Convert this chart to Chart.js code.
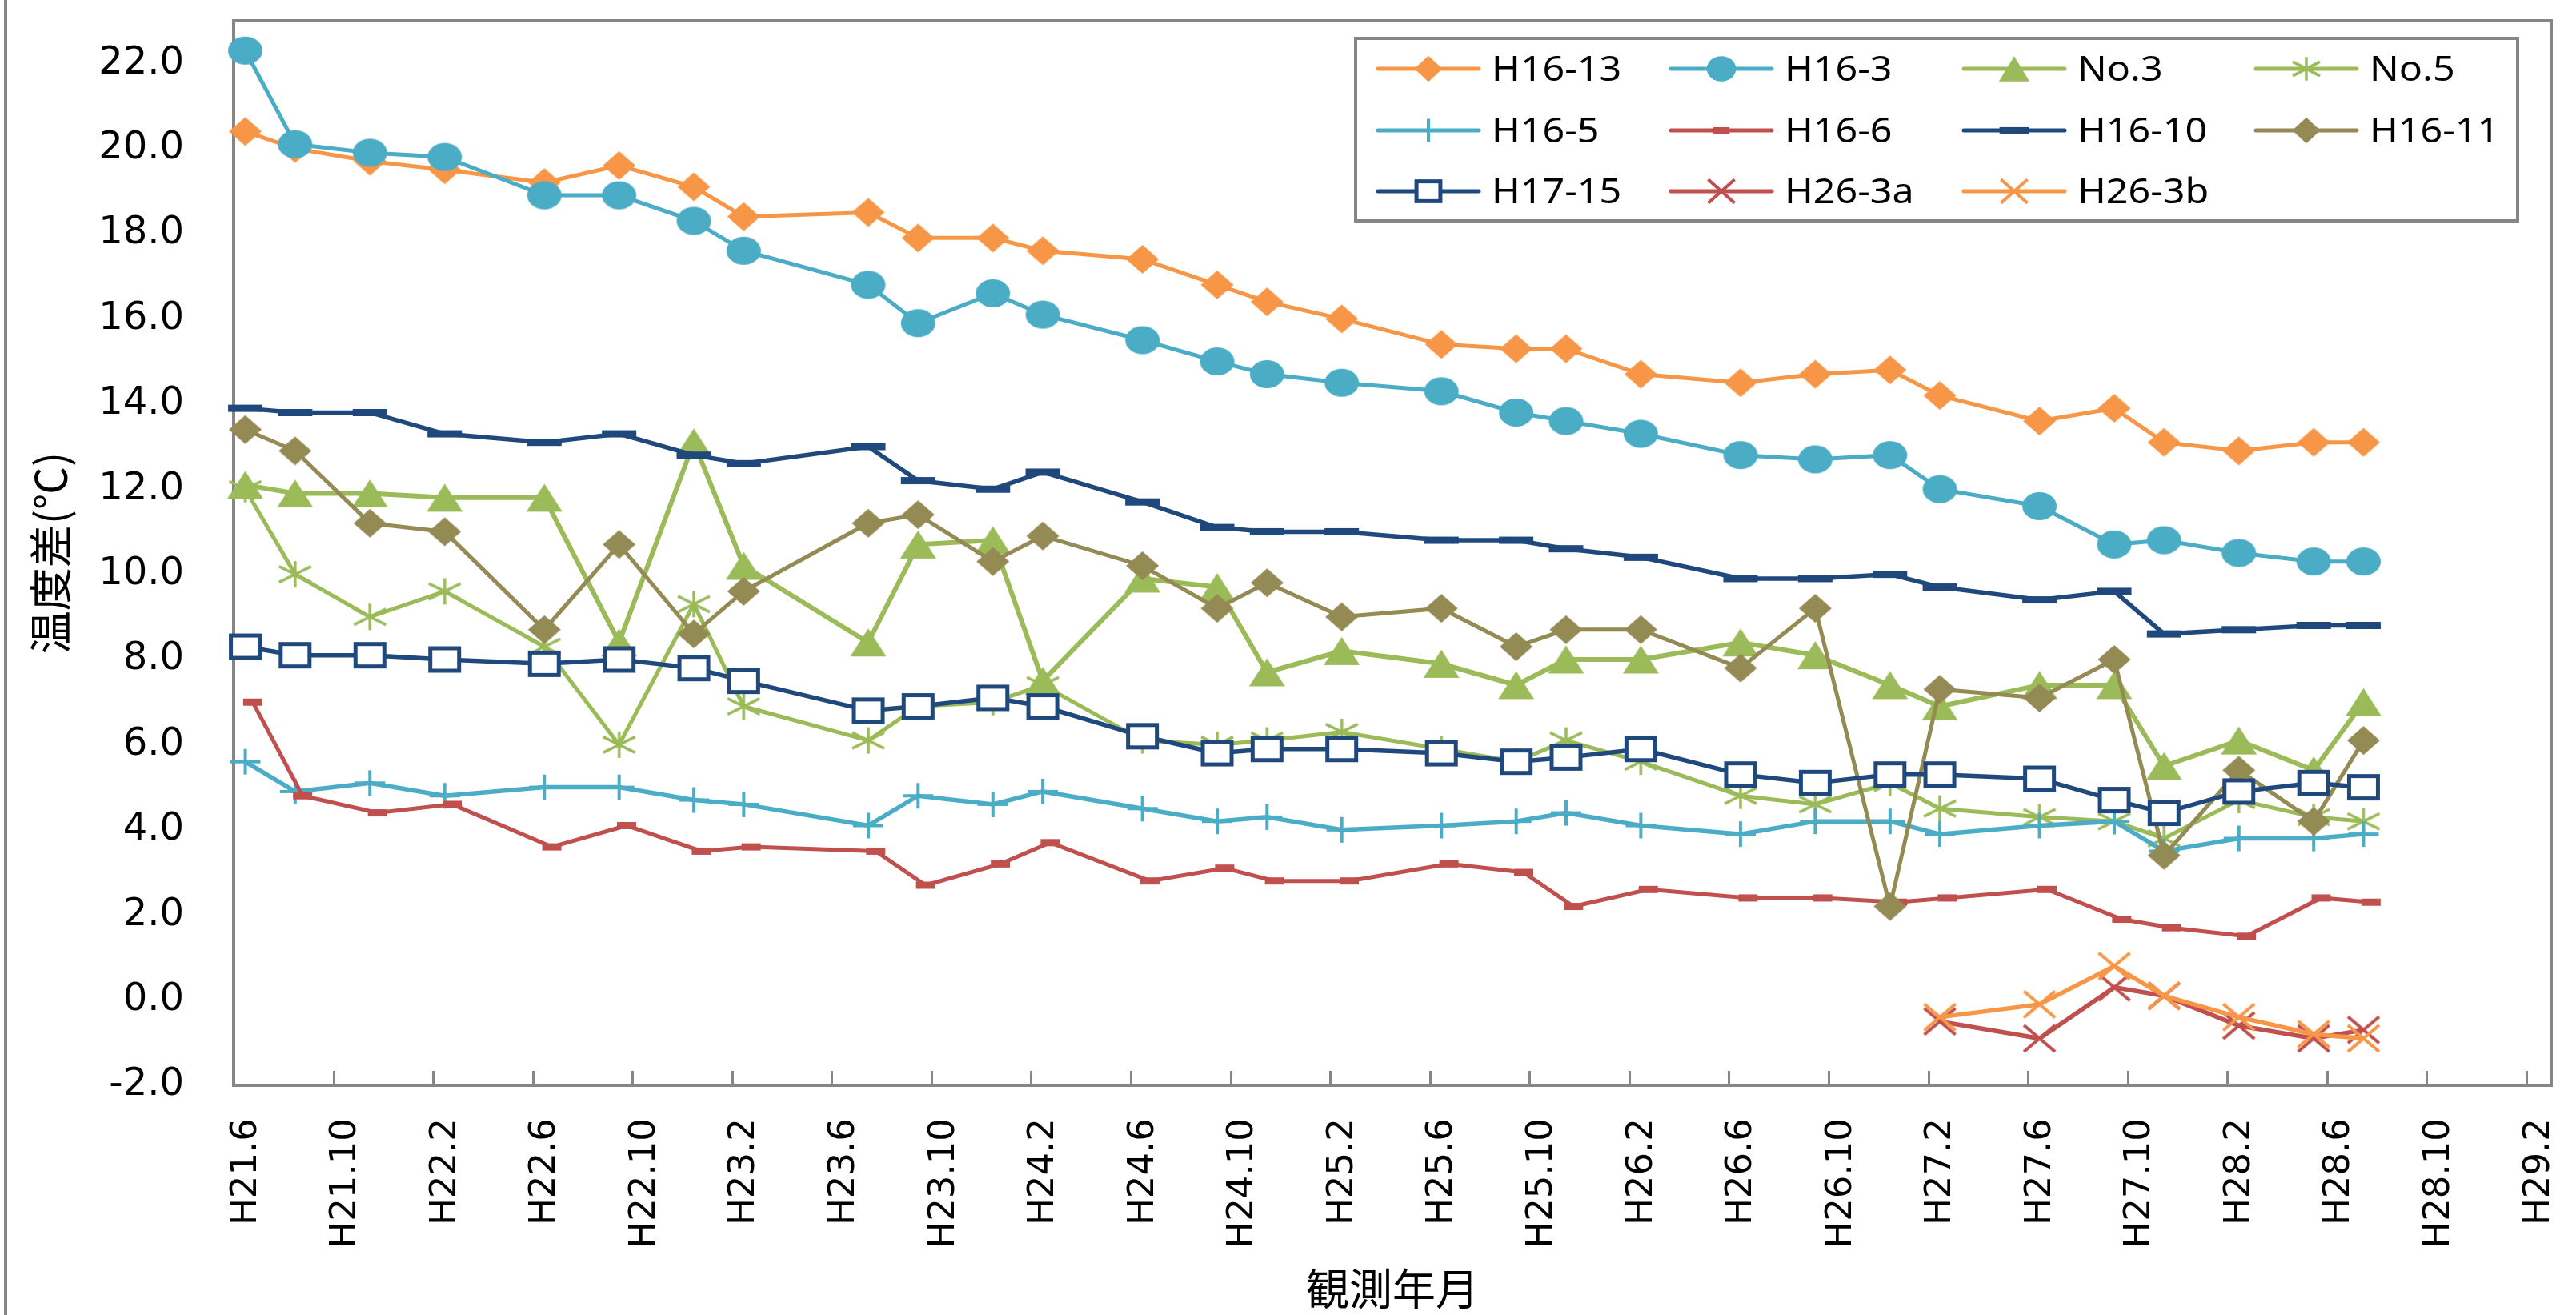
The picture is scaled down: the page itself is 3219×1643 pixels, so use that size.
<!DOCTYPE html>
<html>
<head>
<meta charset="utf-8">
<title>温度差の経年変化</title>
<script src="https://cdn.jsdelivr.net/npm/chart.js@4.4.1/dist/chart.umd.min.js"></script>
<style>
html, body { margin: 0; padding: 0; background: #fff; }
canvas { display: block; }
</style>
</head>
<body>
<canvas id="chart" width="3219" height="1643"></canvas>
<script>
// observation dates (H = Heisei year . month)
const obsDates = ['H21.6','H21.8','H21.11','H22.2','H22.6','H22.9','H22.12','H23.2','H23.7','H23.9','H23.12',
  'H24.2','H24.6','H24.9','H24.11','H25.2','H25.6','H25.9','H25.11','H26.2','H26.6',
  'H26.9','H26.12','H27.2','H27.6','H27.9','H27.11','H28.2','H28.5','H28.7'];
const obsDay = 15;      // most wells measured mid-month
const h16_6Day = 24;    // H16-6 measured later in the month

const tickLabels = ['H21.6','H21.10','H22.2','H22.6','H22.10','H23.2','H23.6','H23.10','H24.2','H24.6','H24.10','H25.2',
  'H25.6','H25.10','H26.2','H26.6','H26.10','H27.2','H27.6','H27.10','H28.2','H28.6','H28.10','H29.2'];
const axisEnd = 'H29.3';

const h16_13 = [20.4, 20.0, 19.7, 19.5, 19.2, 19.6, 19.1, 18.4, 18.5, 17.9, 17.9, 17.6, 17.4, 16.8, 16.4, 16.0, 15.4, 15.3, 15.3, 14.7, 14.5, 14.7, 14.8, 14.2, 13.6, 13.9, 13.1, 12.9, 13.1, 13.1];
const h16_3  = [22.3, 20.1, 19.9, 19.8, 18.9, 18.9, 18.3, 17.6, 16.8, 15.9, 16.6, 16.1, 15.5, 15.0, 14.7, 14.5, 14.3, 13.8, 13.6, 13.3, 12.8, 12.7, 12.8, 12.0, 11.6, 10.7, 10.8, 10.5, 10.3, 10.3];
const no3    = [12.1, 11.9, 11.9, 11.8, 11.8, 8.4, 13.1, 10.2, 8.4, 10.7, 10.8, 7.5, 9.9, 9.7, 7.7, 8.2, 7.9, 7.4, 8.0, 8.0, 8.4, 8.1, 7.4, 6.9, 7.4, 7.4, 5.5, 6.1, 5.4, 7.0];
const no5    = [12.0, 10.0, 9.0, 9.6, 8.3, 6.0, 9.3, 6.9, 6.1, 6.9, 7.0, 7.4, 6.1, 6.0, 6.1, 6.3, 5.9, 5.6, 6.1, 5.6, 4.8, 4.6, 5.1, 4.5, 4.3, 4.2, 3.8, 4.7, 4.3, 4.2];
const h16_5  = [5.6, 4.9, 5.1, 4.8, 5.0, 5.0, 4.7, 4.6, 4.1, 4.8, 4.6, 4.9, 4.5, 4.2, 4.3, 4.0, 4.1, 4.2, 4.4, 4.1, 3.9, 4.2, 4.2, 3.9, 4.1, 4.2, 3.5, 3.8, 3.8, 3.9];
const h16_6  = [7.0, 4.8, 4.4, 4.6, 3.6, 4.1, 3.5, 3.6, 3.5, 2.7, 3.2, 3.7, 2.8, 3.1, 2.8, 2.8, 3.2, 3.0, 2.2, 2.6, 2.4, 2.4, 2.3, 2.4, 2.6, 1.9, 1.7, 1.5, 2.4, 2.3];
const h16_10 = [13.9, 13.8, 13.8, 13.3, 13.1, 13.3, 12.8, 12.6, 13.0, 12.2, 12.0, 12.4, 11.7, 11.1, 11.0, 11.0, 10.8, 10.8, 10.6, 10.4, 9.9, 9.9, 10.0, 9.7, 9.4, 9.6, 8.6, 8.7, 8.8, 8.8];
const h16_11 = [13.4, 12.9, 11.2, 11.0, 8.7, 10.7, 8.6, 9.6, 11.2, 11.4, 10.3, 10.9, 10.2, 9.2, 9.8, 9.0, 9.2, 8.3, 8.7, 8.7, 7.8, 9.2, 2.2, 7.3, 7.1, 8.0, 3.4, 5.4, 4.2, 6.1];
const h17_15 = [8.3, 8.1, 8.1, 8.0, 7.9, 8.0, 7.8, 7.5, 6.8, 6.9, 7.1, 6.9, 6.2, 5.8, 5.9, 5.9, 5.8, 5.6, 5.7, 5.9, 5.3, 5.1, 5.3, 5.3, 5.2, 4.7, 4.4, 4.9, 5.1, 5.0];
const h26_3a = [null, null, null, null, null, null, null, null, null, null, null, null, null, null, null, null, null, null, null, null, null, null, null,
  -0.5, -0.9, 0.3, 0.1, -0.6, -0.9, -0.7];
const h26_3b = [null, null, null, null, null, null, null, null, null, null, null, null, null, null, null, null, null, null, null, null, null, null, null,
  -0.4, -0.1, 0.8, 0.1, -0.4, -0.8, -0.9];

const series = [
  { name: 'H16-13', values: h16_13, day: obsDay },
  { name: 'H16-3',  values: h16_3,  day: obsDay },
  { name: 'No.3',   values: no3,    day: obsDay },
  { name: 'No.5',   values: no5,    day: obsDay },
  { name: 'H16-5',  values: h16_5,  day: obsDay },
  { name: 'H16-6',  values: h16_6,  day: h16_6Day },
  { name: 'H16-10', values: h16_10, day: obsDay },
  { name: 'H16-11', values: h16_11, day: obsDay },
  { name: 'H17-15', values: h17_15, day: obsDay },
  { name: 'H26-3a', values: h26_3a, day: obsDay },
  { name: 'H26-3b', values: h26_3b, day: obsDay },
];

const styles = {
  'H16-13': { color: '#F79646', marker: 'diamond',  w: 41, h: 36, lw: 5 },
  'H16-3':  { color: '#4BACC6', marker: 'circle',   w: 43, h: 35, lw: 5 },
  'No.3':   { color: '#9BBB59', marker: 'triangle', w: 45, h: 35, lw: 6 },
  'No.5':   { color: '#9BBB59', marker: 'star',     w: 40, h: 33, lw: 5 },
  'H16-5':  { color: '#4BACC6', marker: 'plus',     w: 38, h: 32, lw: 5.5 },
  'H16-6':  { color: '#C0504D', marker: 'dash',     w: 24, h: 9,  lw: 5 },
  'H16-10': { color: '#1F497D', marker: 'dash',     w: 43, h: 9,  lw: 5.5 },
  'H16-11': { color: '#948A54', marker: 'diamond',  w: 41, h: 36, lw: 5 },
  'H17-15': { color: '#1F497D', marker: 'square',   w: 41, h: 33, lw: 5.5 },
  'H26-3a': { color: '#C0504D', marker: 'cross',    w: 39, h: 33, lw: 5.5 },
  'H26-3b': { color: '#F79646', marker: 'cross',    w: 39, h: 33, lw: 5.5 },
};
const frameColor = '#868686';

// "H21.6" -> months since H21.6.1
function toMonth(label, day) {
  const p = label.slice(1).split('.');
  return (Number(p[0]) - 21) * 12 + (Number(p[1]) - 6) + (day - 1) / 30;
}

function drawMarker(g, shape, color, cx, cy, w, h) {
  const rx = w / 2, ry = h / 2;
  g.fillStyle = color;
  g.strokeStyle = color;
  g.lineCap = 'butt';
  g.beginPath();
  if (shape === 'diamond') {
    g.moveTo(cx, cy - ry); g.lineTo(cx + rx, cy); g.lineTo(cx, cy + ry); g.lineTo(cx - rx, cy);
    g.closePath(); g.fill();
  } else if (shape === 'circle') {
    g.ellipse(cx, cy, rx, ry, 0, 0, Math.PI * 2); g.fill();
  } else if (shape === 'triangle') {
    g.moveTo(cx, cy - ry); g.lineTo(cx + rx, cy + ry); g.lineTo(cx - rx, cy + ry);
    g.closePath(); g.fill();
  } else if (shape === 'dash') {
    g.fillRect(cx - rx, cy - ry, w, h);
  } else if (shape === 'square') {
    g.lineWidth = 5;
    g.fillStyle = '#fff';
    g.fillRect(cx - rx + 2.5, cy - ry + 2.5, w - 5, h - 5);
    g.strokeRect(cx - rx + 2.5, cy - ry + 2.5, w - 5, h - 5);
  } else if (shape === 'plus') {
    g.lineWidth = 4;
    g.moveTo(cx, cy - ry); g.lineTo(cx, cy + ry);
    g.moveTo(cx - rx, cy); g.lineTo(cx + rx, cy);
    g.stroke();
  } else if (shape === 'star') {
    g.lineWidth = 3.5;
    g.moveTo(cx, cy - ry); g.lineTo(cx, cy + ry);
    g.moveTo(cx - rx, cy - ry * 0.6); g.lineTo(cx + rx, cy + ry * 0.6);
    g.moveTo(cx - rx, cy + ry * 0.6); g.lineTo(cx + rx, cy - ry * 0.6);
    g.stroke();
  } else if (shape === 'cross') {
    g.lineWidth = 4;
    g.moveTo(cx - rx, cy - ry); g.lineTo(cx + rx, cy + ry);
    g.moveTo(cx - rx, cy + ry); g.lineTo(cx + rx, cy - ry);
    g.stroke();
  }
}

function makeMarker(st) {
  const c = document.createElement('canvas');
  c.width = st.w + 12;
  c.height = st.h + 12;
  drawMarker(c.getContext('2d'), st.marker, st.color, c.width / 2, c.height / 2, st.w, st.h);
  return c;
}

const datasets = series.map((s, i) => {
  const st = styles[s.name];
  const pts = [];
  s.values.forEach((v, j) => {
    if (v !== null) pts.push({ x: toMonth(obsDates[j], s.day), y: v });
  });
  return {
    label: s.name,
    data: pts,
    borderColor: st.color,
    backgroundColor: st.color,
    borderWidth: st.lw,
    pointStyle: makeMarker(st),
    pointRadius: 20,
    pointHoverRadius: 20,
    tension: 0,
    fill: false,
    clip: false,
    order: series.length - i,
  };
});

const tickMonths = tickLabels.map(l => toMonth(l, 1));

// keep the plot box where the layout padding puts it
function noScalePadding(scale) {
  scale.paddingLeft = 0;
  scale.paddingRight = 0;
  scale.paddingTop = 0;
  scale.paddingBottom = 0;
}

// plot frame + inward x ticks, drawn below the series
const framePlugin = {
  id: 'frame',
  beforeDatasetsDraw(chart) {
    const { ctx, chartArea: a, scales } = chart;
    ctx.save();
    ctx.fillStyle = frameColor;
    ctx.fillRect(5, 0, 4, chart.height);
    ctx.strokeStyle = frameColor;
    ctx.lineWidth = 4;
    ctx.strokeRect(a.left, a.top, a.right - a.left, a.bottom - a.top);
    ctx.lineWidth = 3;
    ctx.beginPath();
    scales.x.ticks.forEach(t => {
      const px = Math.round(scales.x.getPixelForValue(t.value)) + 0.5;
      ctx.moveTo(px, a.bottom);
      ctx.lineTo(px, a.bottom - 18);
    });
    ctx.stroke();
    ctx.restore();
  }
};

// boxed legend in four columns
const legendPlugin = {
  id: 'gridLegend',
  afterDraw(chart) {
    const ctx = chart.ctx;
    const box = { left: 1694, top: 48, right: 3146, bottom: 276 };
    const colX = [1722, 2088, 2454, 2819];
    const rowY = [86, 163, 239];
    ctx.save();
    ctx.fillStyle = '#fff';
    ctx.fillRect(box.left, box.top, box.right - box.left, box.bottom - box.top);
    ctx.strokeStyle = frameColor;
    ctx.lineWidth = 4;
    ctx.strokeRect(box.left, box.top, box.right - box.left, box.bottom - box.top);
    series.forEach((s, i) => {
      const st = styles[s.name];
      const x0 = colX[i % 4], y0 = rowY[Math.floor(i / 4)];
      ctx.strokeStyle = st.color;
      ctx.lineWidth = 5;
      ctx.lineCap = 'round';
      ctx.beginPath();
      ctx.moveTo(x0, y0);
      ctx.lineTo(x0 + 126, y0);
      ctx.stroke();
      drawMarker(ctx, st.marker, st.color, x0 + 63, y0, st.w * 0.85, st.h * 0.9);
      ctx.save();
      ctx.translate(x0 + 142, y0);
      ctx.scale(1.1, 1);
      ctx.fillStyle = '#000';
      ctx.font = '44px "Noto Sans"';
      ctx.textBaseline = 'middle';
      ctx.textAlign = 'left';
      ctx.fillText(s.name, 0, 2);
      ctx.restore();
    });
    ctx.restore();
  }
};

new Chart(document.getElementById('chart'), {
  type: 'line',
  data: { datasets: datasets },
  options: {
    responsive: false,
    animation: false,
    devicePixelRatio: 1,
    layout: { padding: { left: 0, right: 31, top: 21, bottom: 0 } },
    plugins: {
      legend: { display: false },
      tooltip: { enabled: false },
    },
    scales: {
      x: {
        type: 'linear',
        min: 0,
        max: toMonth(axisEnd, 1),
        afterBuildTicks: scale => { scale.ticks = tickMonths.map(v => ({ value: v })); },
        afterFit: scale => { scale.height = 287; noScalePadding(scale); },
        grid: { display: false, drawTicks: false },
        border: { display: false },
        ticks: {
          autoSkip: false,
          minRotation: 90,
          maxRotation: 90,
          padding: 41,
          labelOffset: 16,
          color: '#000',
          font: { family: 'DejaVu Sans', size: 45 },
          callback: (v, i) => tickLabels[i],
        },
        title: {
          display: true,
          text: '観測年月',
          color: '#000',
          font: { family: '"Noto Sans CJK JP"', size: 54 },
          padding: { top: 0, bottom: 0 },
        },
      },
      y: {
        min: -2,
        max: 23,
        afterFit: scale => { scale.width = 292; noScalePadding(scale); },
        grid: { display: false, drawTicks: false },
        border: { display: false },
        ticks: {
          stepSize: 2,
          includeBounds: false,
          padding: 62,
          color: '#000',
          font: { family: 'DejaVu Sans', size: 48 },
          callback: v => v.toFixed(1),
        },
        title: {
          display: true,
          text: '温度差(℃)',
          color: '#000',
          font: { family: '"Noto Sans CJK JP"', size: 54 },
          padding: { top: 31, bottom: 0 },
        },
      },
    },
  },
  plugins: [framePlugin, legendPlugin],
});
</script>
</body>
</html>
